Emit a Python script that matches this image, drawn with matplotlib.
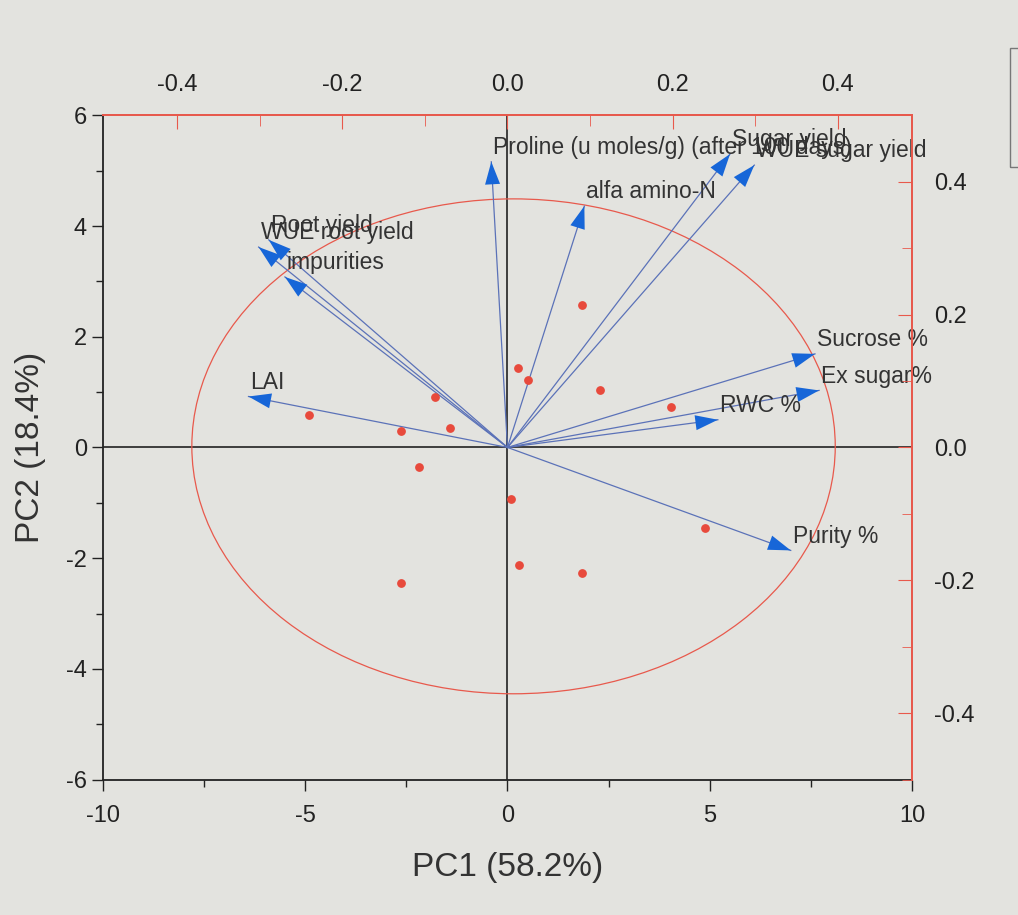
import numpy as np
import matplotlib.pyplot as plt
from matplotlib.patches import Ellipse, Rectangle
from matplotlib.ticker import MultipleLocator

plt.rcParams['font.family'] = ['Liberation Sans', 'DejaVu Sans']
plt.rcParams['axes.unicode_minus'] = False

# loadings (drawn on the PC1/PC2 score scale)
var_names = ["Proline (u moles/g) (after 100 days)", "Sugar yield", "WUE sugar yield",
             "alfa amino-N", "Root yield", "WUE root yield", "impurities", "LAI",
             "Sucrose %", "Ex sugar%", "RWC %", "Purity %"]
load_pc1 = [-0.40, 5.50, 6.10, 1.90, -5.90, -6.15, -5.50, -6.40, 7.60, 7.70, 5.20, 7.00]
load_pc2 = [5.16, 5.30, 5.10, 4.36, 3.75, 3.62, 3.08, 0.92, 1.69, 1.03, 0.50, -1.86]

# observation scores
score_pc1 = [-4.90, -2.63, -1.78, -1.43, -2.18, -2.63, 0.25, 0.50, 1.85, 2.28, 4.03,
             0.08, 0.28, 1.83, 4.88]
score_pc2 = [0.59, 0.30, 0.91, 0.35, -0.36, -2.44, 1.44, 1.22, 2.58, 1.04, 0.73,
             -0.93, -2.13, -2.26, -1.46]

ellipse_center = (0.15, 0.02)
ellipse_w, ellipse_h = 15.9, 8.94

bg = '#e3e3df'
red = '#e8594c'
line_blue = '#5b72b8'
head_blue = '#1766d8'
txt = '#333333'

fig = plt.figure(figsize=(10.18, 9.15), dpi=100, facecolor=bg)
ax = fig.add_axes([0.101, 0.148, 0.795, 0.726], facecolor=bg)

ax.set_xlim(-10, 10)
ax.set_ylim(-6, 6)
ax.axhline(0, color='#222222', lw=1.2, zorder=1)
ax.axvline(0, color='#222222', lw=1.2, zorder=1)

ax.add_patch(Ellipse(ellipse_center, ellipse_w, ellipse_h, fill=False,
                     edgecolor=red, lw=0.9, zorder=2))

ax.scatter(score_pc1, score_pc2, s=28, color='#e84a3c', zorder=4)

for name, x, y in zip(var_names, load_pc1, load_pc2):
    ax.plot([0, x], [0, y], color=line_blue, lw=0.9, zorder=3)
    ax.annotate('', xy=(x, y), xytext=(0.93 * x, 0.93 * y),
                arrowprops=dict(arrowstyle='-|>,head_length=0.9,head_width=0.3',
                                color=head_blue, lw=0, mutation_scale=18,
                                shrinkA=0, shrinkB=0), zorder=5)
    ax.text(x + 0.05, y + 0.05, name, ha='left', va='bottom', fontsize=16.5,
            color=txt, zorder=6)

ax.xaxis.set_major_locator(MultipleLocator(5))
ax.xaxis.set_minor_locator(MultipleLocator(2.5))
ax.yaxis.set_major_locator(MultipleLocator(2))
ax.yaxis.set_minor_locator(MultipleLocator(1))
ax.tick_params(which='both', direction='out', colors='#222222', labelsize=17)
ax.tick_params(which='major', length=8, width=1)
ax.tick_params(which='minor', length=5, width=1)
ax.tick_params(axis='x', pad=10)
for side in ['top', 'right']:
    ax.spines[side].set_visible(False)
for side in ['left', 'bottom']:
    ax.spines[side].set_color('#222222')
    ax.spines[side].set_linewidth(1.3)

ax.set_xlabel('PC1 (58.2%)', fontsize=24, color=txt, labelpad=18)
ax.set_ylabel('PC2 (18.4%)', fontsize=24, color=txt, labelpad=14)

# secondary loading scales
top = ax.twiny()
top.set_xlim(-0.49, 0.49)
top.xaxis.set_major_locator(MultipleLocator(0.2))
top.xaxis.set_minor_locator(MultipleLocator(0.1))
top.xaxis.set_major_formatter(lambda v, p: f'{v:.1f}')
top.tick_params(which='both', direction='in', color=red, labelcolor='#222222',
                labelsize=17, pad=14)
top.tick_params(which='major', length=10)
top.tick_params(which='minor', length=8)

right = ax.twinx()
right.set_ylim(-0.5, 0.5)
right.yaxis.set_major_locator(MultipleLocator(0.2))
right.yaxis.set_minor_locator(MultipleLocator(0.1))
right.yaxis.set_major_formatter(lambda v, p: f'{v:.1f}')
right.tick_params(which='both', direction='in', color=red, labelcolor='#222222',
                  labelsize=17, pad=16)
right.tick_params(which='major', length=10)
right.tick_params(which='minor', length=7)

for a in (top, right):
    for side in ['left', 'bottom']:
        a.spines[side].set_visible(False)
    a.spines['top'].set_color(red)
    a.spines['right'].set_color(red)
    a.spines['top'].set_linewidth(1.3)
    a.spines['right'].set_linewidth(1.3)

# clipped legend frame at the right edge
fig.patches.append(Rectangle((0.992, 0.817), 0.03, 0.13, transform=fig.transFigure,
                             fill=False, edgecolor='#777777', lw=1.0))

fig.savefig('out.png', dpi=100, facecolor=bg)
